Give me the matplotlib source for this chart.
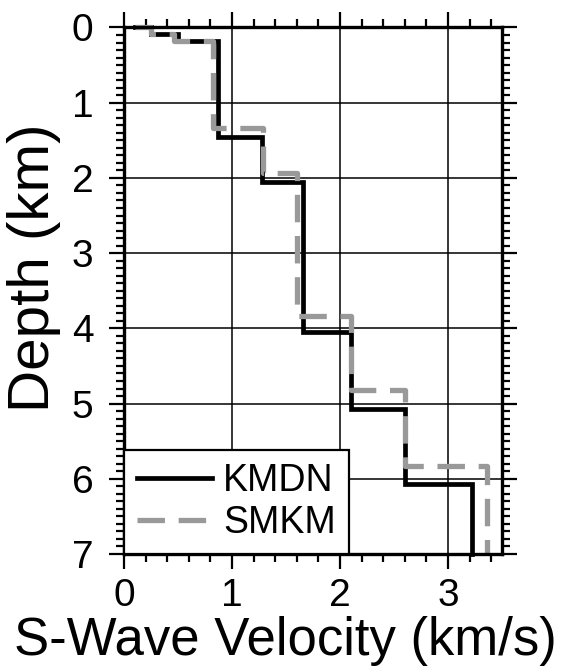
import numpy as np
import matplotlib
matplotlib.use("Agg")
import matplotlib.pyplot as plt
from matplotlib.ticker import MultipleLocator

plt.rcParams.update({
    "font.family": ["Liberation Sans", "DejaVu Sans"],
    "text.color": "#000000",
})

# layer tops (km) and S-wave velocities (km/s)
kmdn_top = [0.0, 0.0, 0.09, 0.18, 1.45, 2.05, 4.05, 5.07, 6.07]
kmdn_vs = [0.10, 0.25, 0.50, 0.87, 1.28, 1.66, 2.10, 2.60, 3.22]
smkm_top = [0.0, 0.0, 0.09, 0.18, 1.33, 1.93, 3.83, 4.82, 5.83]
smkm_vs = [0.10, 0.25, 0.46, 0.82, 1.29, 1.60, 2.10, 2.60, 3.36]
max_depth = 7.0


def profile(tops, vs):
    bottoms = list(tops[1:]) + [max_depth]
    x = np.repeat(vs, 2)
    y = np.column_stack([tops, bottoms]).ravel()
    return x, y


W, H = 566, 672
fig = plt.figure(figsize=(W / 100, H / 100), dpi=100)
ax = fig.add_axes([124 / W, 1 - 554 / H, 378 / W, 526.5 / H])

ax.grid(True, which="major", color="black", lw=1.1)
ax.set_axisbelow(True)

x, y = profile(kmdn_top, kmdn_vs)
ax.plot(x, y, color="black", lw=3.4, label="KMDN", solid_joinstyle="miter",
        clip_on=False)
x, y = profile(smkm_top, smkm_vs)
ax.plot(x, y, color="#999999", lw=3.8, dashes=(5.2, 2.6), label="SMKM",
        clip_on=False)

ax.set_xlim(0, 3.5)
ax.set_ylim(7, 0)
ax.xaxis.set_major_locator(MultipleLocator(1))
ax.xaxis.set_minor_locator(MultipleLocator(0.2))
ax.yaxis.set_major_locator(MultipleLocator(1))
ax.yaxis.set_minor_locator(MultipleLocator(0.1))

for s in ax.spines.values():
    s.set_linewidth(2.4)
ax.tick_params(which="both", direction="out", top=True, right=True,
               width=1.6, labelsize=28)
ax.tick_params(axis="x", which="major", pad=6)
ax.tick_params(axis="y", which="major", pad=11)
ax.tick_params(which="major", length=11)
ax.tick_params(which="minor", length=6)

# axis titles sit off-centre in the reference, so place them on the figure
fig.text(285 / W, 1 - 641 / H, "S-Wave Velocity (km/s)", fontsize=38,
         ha="center", va="center")
fig.text(34 / W, 1 - 268 / H, "Depth (km)", fontsize=42, rotation=90,
         ha="center", va="center")

leg = ax.legend(loc="lower left", borderaxespad=0, fontsize=27, fancybox=False,
                framealpha=1, edgecolor="black", handlelength=2.0,
                handletextpad=0.3, borderpad=0.35, labelspacing=0.15)
leg.get_frame().set_linewidth(1.6)

fig.savefig("out.png", dpi=100)
